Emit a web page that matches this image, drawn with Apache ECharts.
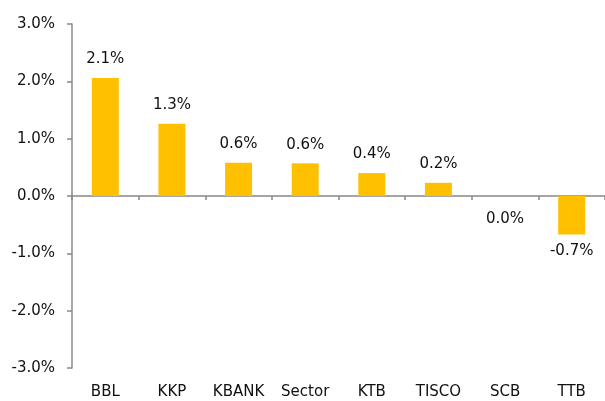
<!DOCTYPE html>
<html>
<head>
<meta charset="utf-8">
<script src="https://cdn.jsdelivr.net/npm/echarts@6/dist/echarts.min.js"></script>
<style>
html,body{margin:0;padding:0;background:#fff;}
#chart{width:605px;height:401px;}
</style>
</head>
<body>
<div id="chart"></div>
<script>
var categories = ['BBL', 'KKP', 'KBANK', 'Sector', 'KTB', 'TISCO', 'SCB', 'TTB'];
var values = [2.06, 1.26, 0.58, 0.57, 0.40, 0.23, 0.0, -0.67];
var yTicks = [-3, -2, -1, 0, 1, 2, 3];

var FONT = 'DejaVu Sans';
var AXIS_COLOR = '#888888';

var seriesData = values.map(function (v) {
  var item = { value: v };
  if (v < 0) {
    item.label = { position: 'bottom', distance: 9 };
  } else if (v === 0) {
    item.label = { position: 'bottom', distance: 16 };
  }
  return item;
});

var chart = echarts.init(document.getElementById('chart'), null, { renderer: 'canvas' });
chart.setOption({
  animation: false,
  backgroundColor: '#ffffff',
  grid: { left: 72, right: 0, top: 24, bottom: 33, containLabel: false },
  xAxis: [
    {
      type: 'category',
      data: categories,
      position: 'bottom',
      boundaryGap: true,
      axisLine: { show: true, onZero: true, lineStyle: { color: AXIS_COLOR, width: 1.5 } },
      axisTick: { show: true, length: 4, alignWithLabel: false, lineStyle: { color: AXIS_COLOR, width: 1.5 } },
      axisLabel: { show: false },
      splitLine: { show: false }
    },
    {
      type: 'category',
      data: categories,
      position: 'bottom',
      boundaryGap: true,
      axisLine: { show: false, onZero: false },
      axisTick: { show: false },
      axisLabel: { show: true, margin: 17, color: '#111', fontFamily: FONT, fontSize: 15, interval: 0 },
      splitLine: { show: false }
    }
  ],
  yAxis: {
    type: 'value',
    min: yTicks[0],
    max: yTicks[yTicks.length - 1],
    interval: 1,
    axisLine: { show: true, lineStyle: { color: AXIS_COLOR, width: 1.5 } },
    axisTick: { show: true, length: 5, lineStyle: { color: AXIS_COLOR, width: 1.5 } },
    axisLabel: {
      margin: 17, color: '#111', fontFamily: FONT, fontSize: 15,
      formatter: function (v) { return v.toFixed(1) + '%'; }
    },
    splitLine: { show: false }
  },
  series: [{
    type: 'bar',
    xAxisIndex: 0,
    data: seriesData,
    barWidth: 27,
    itemStyle: { color: '#FFC000' },
    label: {
      show: true,
      position: 'top',
      distance: 11,
      color: '#111',
      fontFamily: FONT,
      fontSize: 15,
      formatter: function (p) { return p.value.toFixed(1) + '%'; }
    }
  }]
});
</script>
</body>
</html>
